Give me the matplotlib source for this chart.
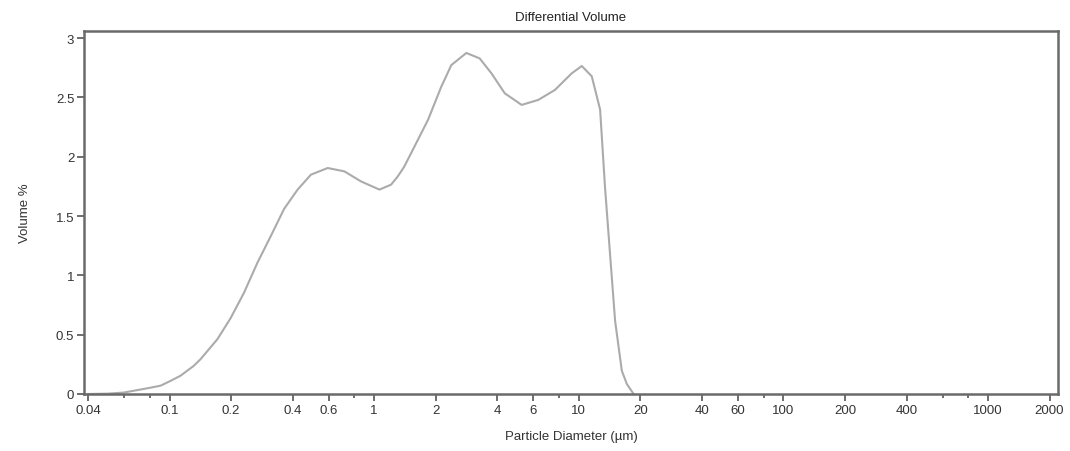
import matplotlib
matplotlib.use('Agg')
import matplotlib.pyplot as plt
from matplotlib.ticker import FixedLocator, NullFormatter

plt.rcParams['font.family'] = ['Liberation Sans', 'DejaVu Sans']

# Curve (diameter in um, volume %)
diameter = [0.04, 0.05, 0.0597, 0.0778, 0.0904, 0.101, 0.1132, 0.1315, 0.1419, 0.1714,
            0.199, 0.2313, 0.269, 0.313, 0.363, 0.4227, 0.491, 0.593, 0.715, 0.863,
            1.062, 1.211, 1.306, 1.403, 1.576, 1.834, 2.13, 2.385, 2.824, 3.28,
            3.746, 4.35, 5.26, 6.34, 7.65, 9.24, 10.35, 11.58, 12.72, 13.45,
            14.23, 15.06, 16.24, 17.19, 18.55]
volume = [0.0, 0.003, 0.012, 0.048, 0.07, 0.11, 0.154, 0.238, 0.294, 0.462,
          0.64, 0.854, 1.107, 1.333, 1.56, 1.723, 1.849, 1.905, 1.877, 1.792,
          1.723, 1.765, 1.835, 1.916, 2.087, 2.311, 2.591, 2.773, 2.875, 2.829,
          2.703, 2.535, 2.437, 2.479, 2.563, 2.703, 2.765, 2.678, 2.398, 1.737,
          1.176, 0.616, 0.196, 0.084, 0.0]

major_ticks = [0.04, 0.1, 0.2, 0.4, 0.6, 1, 2, 4, 6, 10, 20, 40, 60, 100, 200, 400, 1000, 2000]
major_labels = ['0.04', '0.1', '0.2', '0.4', '0.6', '1', '2', '4', '6', '10', '20',
                '40', '60', '100', '200', '400', '1000', '2000']
minor_ticks = [0.06, 0.08, 0.8, 8, 80, 600, 800]
y_ticks = [0, 0.5, 1, 1.5, 2, 2.5, 3]
y_labels = ['0', '0.5', '1', '1.5', '2', '2.5', '3']

fig = plt.figure(figsize=(10.7, 4.52), dpi=100)
ax = fig.add_axes([84 / 1070, 1 - 395 / 452, (1058 - 84) / 1070, (395 - 32) / 452])

ax.plot(diameter, volume, color='#ababab', linewidth=1.5, solid_joinstyle='round')

ax.set_xscale('log')
ax.set_xlim(0.0382, 2200)
ax.set_ylim(0, 3.06)

ax.set_xticks(major_ticks)
ax.set_xticklabels(major_labels)
ax.xaxis.set_minor_locator(FixedLocator(minor_ticks))
ax.xaxis.set_minor_formatter(NullFormatter())
ax.set_yticks(y_ticks)
ax.set_yticklabels(y_labels)

for s in ax.spines.values():
    s.set_color('#6a6a6a')
    s.set_linewidth(1.8)

ax.tick_params(axis='both', which='major', length=5, width=1.2, color='#555555',
               labelsize=9.5, labelcolor='#333333', pad=2)
ax.tick_params(axis='x', which='minor', length=3, width=1.2, color='#555555')

ax.set_title('Differential Volume', fontsize=9.5, color='#222222', pad=8)
ax.set_xlabel('Particle Diameter (µm)', fontsize=9.5, color='#333333', labelpad=10)
ax.set_ylabel('Volume %', fontsize=9.5, color='#333333', labelpad=18)

plt.savefig('out.png', dpi=100)
